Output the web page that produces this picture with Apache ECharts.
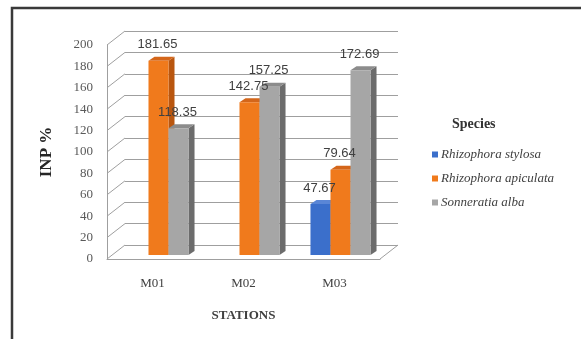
<!DOCTYPE html>
<html><head><meta charset="utf-8">
<script src="https://cdn.jsdelivr.net/npm/echarts@6/dist/echarts.min.js"></script>
<style>html,body{margin:0;padding:0;background:#fff}#c{width:581px;height:339px}</style>
</head><body><div id="c"></div>
<script>
const categories = ['M01', 'M02', 'M03'];
const seriesNames = ['Rhizophora stylosa', 'Rhizophora apiculata', 'Sonneratia alba'];
const stylosa = [null, null, 47.67];
const apiculata = [181.65, 142.75, 79.64];
const alba = [118.35, 157.25, 172.69];
const yTicks = [0, 20, 40, 60, 80, 100, 120, 140, 160, 180, 200];
const yMax = 200, yStep = 20;

const seriesValues = [stylosa, apiculata, alba];
const palette = [
  ['#3b6fcb', '#274f98', '#5a86d6'],
  ['#f07a1c', '#b9560f', '#d4661a'],
  ['#a6a6a6', '#6c6c6c', '#8c8c8c']
];
const DX = 6, DY = -4;

function toData(arr) {
  const out = [];
  arr.forEach((v, i) => { if (v !== null) out.push([i, v]); });
  return out;
}

function barGeom(k, api) {
  const ci = api.value(0), v = api.value(1);
  const base = api.coord([ci, 0]);
  const top = api.coord([ci, v]);
  const bw = api.size([1, 0])[0] * 0.22;
  const x0 = base[0] + (k - 1) * bw - bw / 2;
  return { v, x0, x1: x0 + bw, bw, yt: top[1], yb: base[1] };
}

function barRender(k) {
  const c = palette[k];
  return function (params, api) {
    const g = barGeom(k, api);
    const { x0, x1, bw, yt, yb } = g;
    return {
      type: 'group',
      children: [
        { type: 'polygon', shape: { points: [[x1, yt], [x1 + DX, yt + DY], [x1 + DX, yb + DY], [x1, yb]] }, style: { fill: c[1] } },
        { type: 'polygon', shape: { points: [[x0, yt], [x0 + DX, yt + DY], [x1 + DX, yt + DY], [x1, yt]] }, style: { fill: c[2] } },
        { type: 'rect', shape: { x: x0, y: yt, width: bw, height: yb - yt }, style: { fill: c[0] } }
      ]
    };
  };
}

function labelRender(k) {
  return function (params, api) {
    const g = barGeom(k, api);
    return {
      type: 'text',
      style: { text: g.v.toFixed(2), x: (g.x0 + g.x1) / 2 - 1, y: g.yt - 16, align: 'center', verticalAlign: 'middle', fill: '#404040', font: '13px "Liberation Sans", Arial, sans-serif' }
    };
  };
}

function wallRender(params, api) {
  const v = api.value(0);
  const p = api.coord([0, v]);
  const cs = params.coordSys;
  const x = cs.x;
  const children = [
    { type: 'line', shape: { x1: x, y1: p[1], x2: x + 18, y2: p[1] - 14 }, style: { stroke: '#9f9f9f', lineWidth: 1 } }
  ];
  if (v === 0) {
    const xr = cs.x + cs.width;
    children.push({ type: 'line', shape: { x1: xr, y1: p[1], x2: xr + 18, y2: p[1] - 14 }, style: { stroke: '#9f9f9f', lineWidth: 1 } });
  }
  return { type: 'group', children };
}

const chart = echarts.init(document.getElementById('c'), null, { renderer: 'canvas' });
const serif = '"Liberation Serif", "Times New Roman", serif';

const option = {
  backgroundColor: '#ffffff',
  animation: false,
  graphic: [
    { type: 'rect', shape: { x: 12, y: 8, width: 700, height: 500 }, style: { fill: 'none', stroke: '#3a3a3a', lineWidth: 2.5 } }
  ],
  title: {
    text: 'Species', left: 447, top: 112,
    textStyle: { fontFamily: serif, fontWeight: 'bold', fontSize: 14, color: '#333' }
  },
  legend: {
    data: seriesNames, orient: 'vertical', left: 427, top: 143,
    icon: 'rect', itemWidth: 6, itemHeight: 6, itemGap: 11,
    textStyle: { fontFamily: serif, fontStyle: 'italic', fontSize: 13, color: '#404040', padding: [0, 0, 0, -2] }
  },
  grid: [
    { left: 113, top: 41, width: 273, height: 214 },
    { left: 107, top: 45, width: 273, height: 214 },
    { left: 125, top: 31, width: 273, height: 214 }
  ],
  xAxis: [
    { type: 'category', gridIndex: 0, data: categories, show: false },
    {
      type: 'category', gridIndex: 1, data: categories,
      axisLine: { show: true, lineStyle: { color: '#9f9f9f', width: 1 } },
      axisTick: { show: false },
      axisLabel: { margin: 18, fontFamily: serif, fontSize: 13, color: '#404040' },
      name: 'STATIONS', nameLocation: 'middle', nameGap: 50,
      nameTextStyle: { fontFamily: serif, fontWeight: 'bold', fontSize: 13, color: '#404040' }
    },
    { type: 'category', gridIndex: 2, data: categories, show: false }
  ],
  yAxis: [
    { type: 'value', gridIndex: 0, min: 0, max: yMax, interval: yStep, show: false },
    {
      type: 'value', gridIndex: 1, min: 0, max: yMax, interval: yStep,
      axisLine: { show: true, lineStyle: { color: '#9f9f9f', width: 1 } },
      axisTick: { show: false },
      splitLine: { show: false },
      axisLabel: { margin: 14, fontFamily: serif, fontSize: 13, color: '#595959' },
      name: 'INP %', nameLocation: 'middle', nameGap: 52, nameRotate: 90,
      nameTextStyle: { fontFamily: serif, fontWeight: 'bold', fontSize: 17, color: '#262626' }
    },
    {
      type: 'value', gridIndex: 2, min: 0, max: yMax, interval: yStep,
      axisLine: { show: false }, axisTick: { show: false }, axisLabel: { show: false },
      splitLine: { show: true, lineStyle: { color: '#9f9f9f', width: 1 } }
    }
  ],
  series: [
    {
      type: 'custom', xAxisIndex: 1, yAxisIndex: 1, silent: true,
      renderItem: wallRender, data: yTicks.map(t => [t]), encode: { y: 0 }, z: 1
    }
  ].concat(seriesValues.map((arr, k) => ({
    name: seriesNames[k], type: 'custom', xAxisIndex: 0, yAxisIndex: 0,
    itemStyle: { color: palette[k][0] },
    renderItem: barRender(k), data: toData(arr), encode: { x: 0, y: 1 }, z: 5 + k
  }))).concat(seriesValues.map((arr, k) => ({
    type: 'custom', xAxisIndex: 0, yAxisIndex: 0, silent: true,
    renderItem: labelRender(k), data: toData(arr), encode: { x: 0, y: 1 }, z: 20
  })))
};
chart.setOption(option);
</script>
</body></html>
